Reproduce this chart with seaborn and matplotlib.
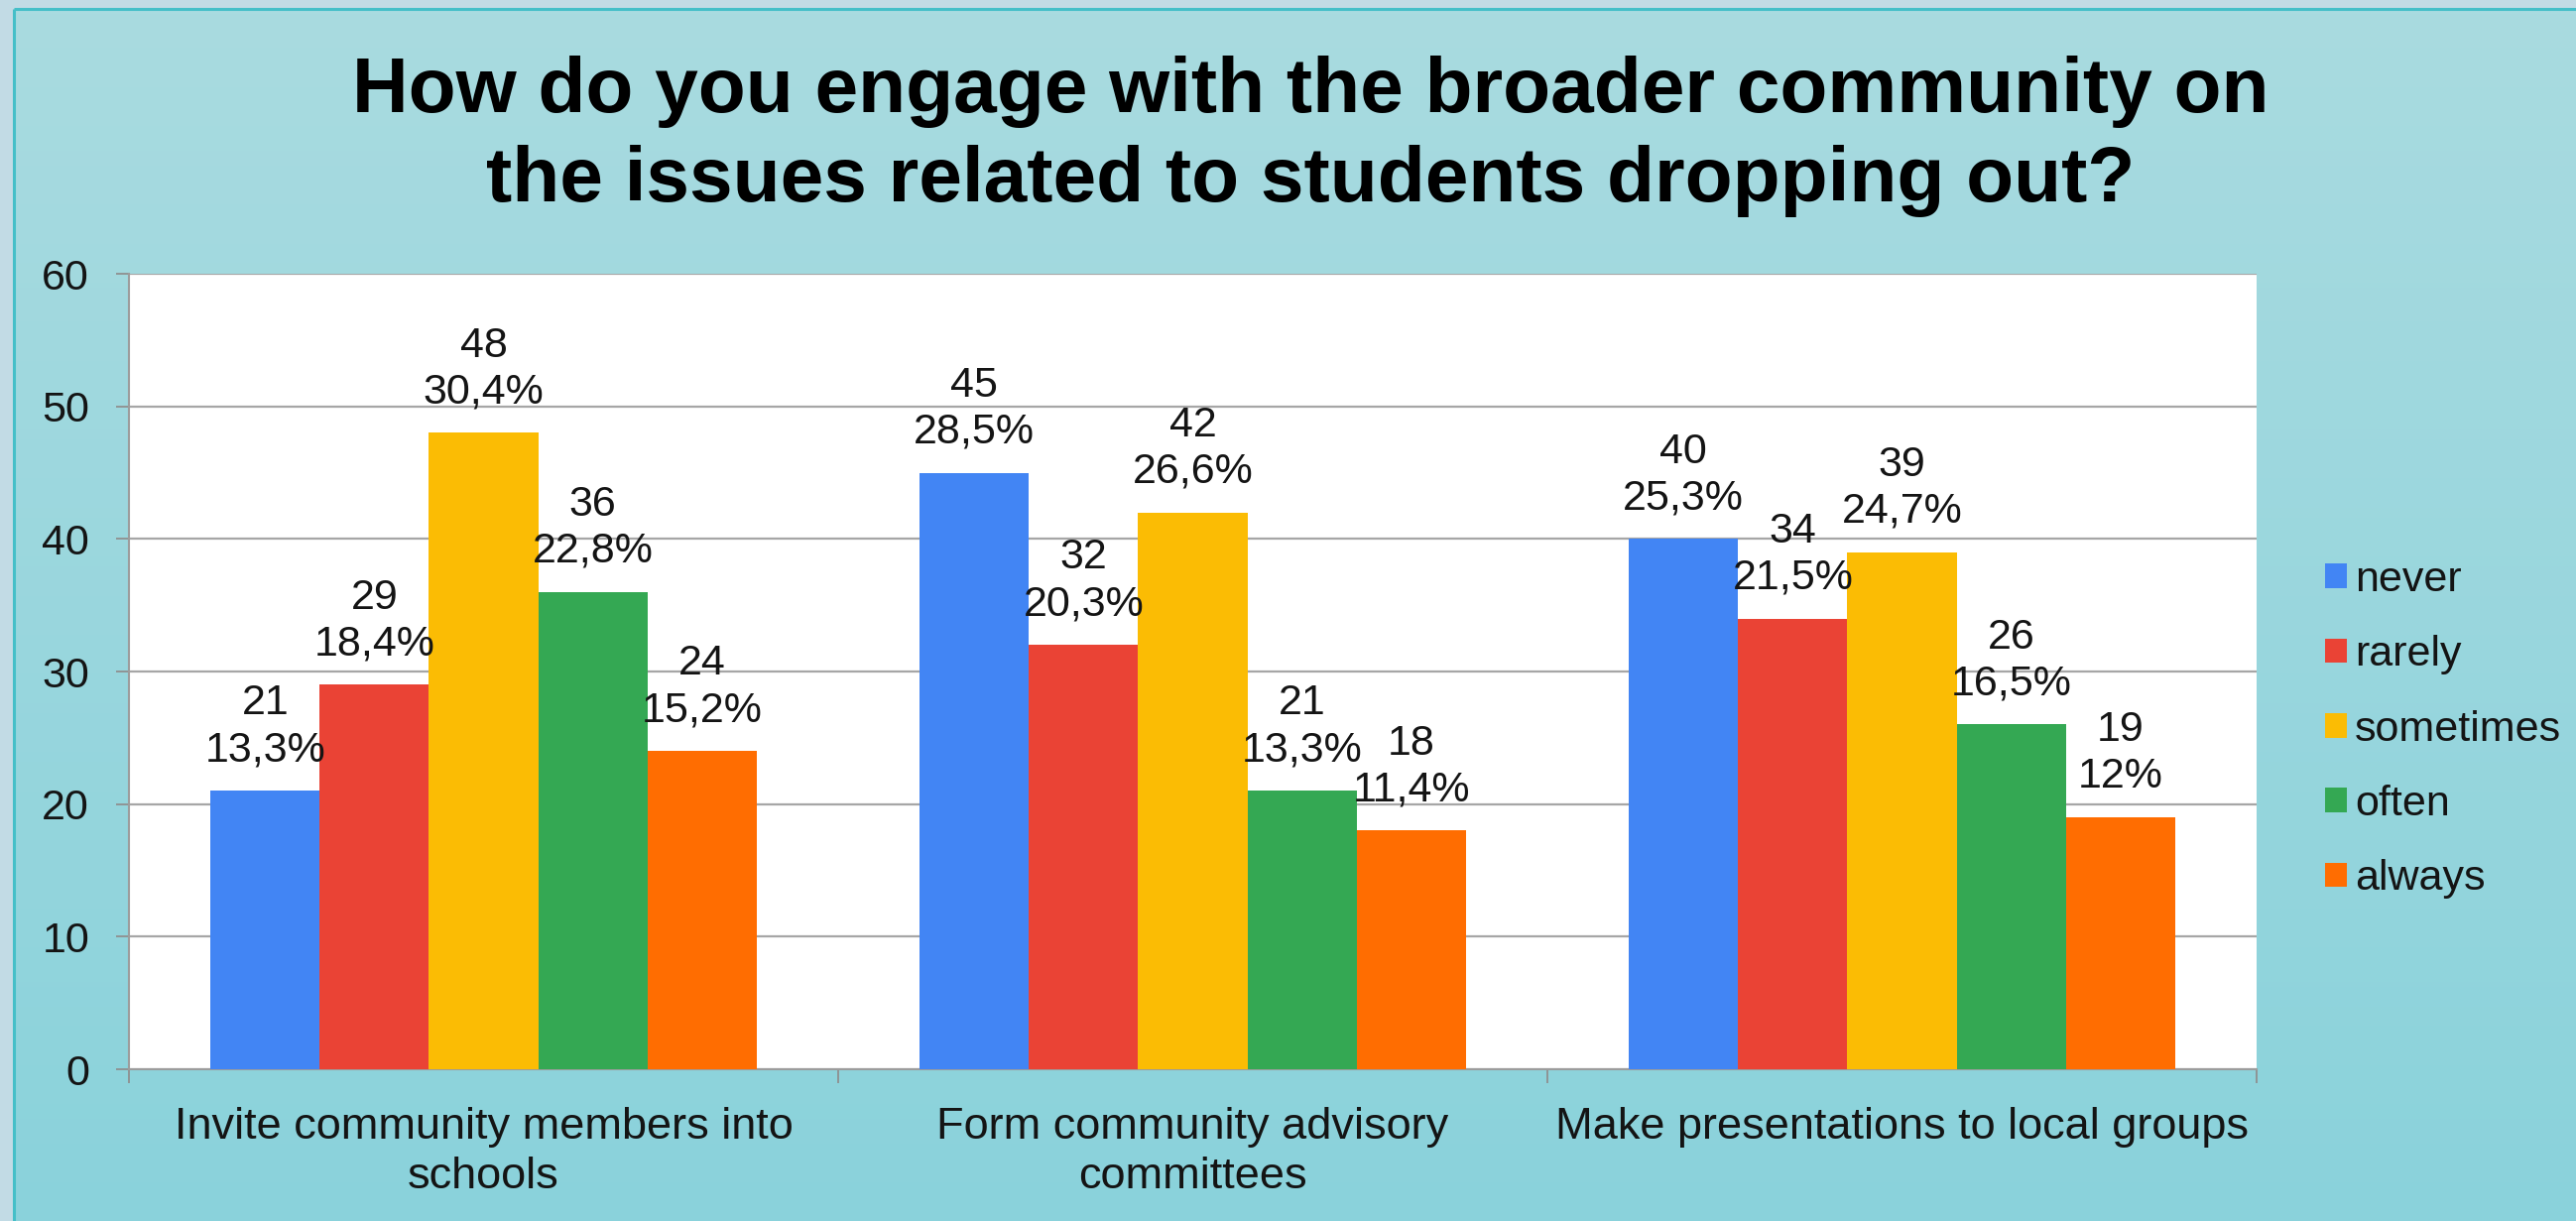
import numpy as np
import pandas as pd
import matplotlib
matplotlib.use("Agg")
import matplotlib.pyplot as plt
from matplotlib.patches import Patch
import seaborn as sns

# ---- data -------------------------------------------------------------
categories = [
    "Invite community members into\nschools",
    "Form community advisory\ncommittees",
    "Make presentations to local groups",
]
responses = ["never", "rarely", "sometimes", "often", "always"]
never = [21, 45, 40]
rarely = [29, 32, 34]
sometimes = [48, 42, 39]
often = [36, 21, 26]
always = [24, 18, 19]
colors = ["#4285F4", "#EA4335", "#FBBC04", "#34A853", "#FF6D01"]
y_ticks = [0, 10, 20, 30, 40, 50, 60]
title_lines = [
    "How do you engage with the broader community on",
    "the issues related to students dropping out?",
]

counts = [never, rarely, sometimes, often, always]
rows = [
    {"category": c, "response": r, "count": counts[i][j]}
    for i, r in enumerate(responses)
    for j, c in enumerate(categories)
]
df = pd.DataFrame(rows)
totals = df.groupby("category", sort=False)["count"].sum().reindex(categories).values


def pct_text(v, total):
    s = f"{v / total * 100:.1f}"
    if s.endswith(".0"):
        s = s[:-2]
    return s.replace(".", ",") + "%"


# ---- figure geometry (pixels) -----------------------------------------
W, H = 2597, 1231
DPI = 100
PT = 72 / DPI  # points per pixel

sns.set_style("white")
plt.rcParams["font.family"] = ["Liberation Sans", "DejaVu Sans"]

fig = plt.figure(figsize=(W / DPI, H / DPI), dpi=DPI)
fig.patch.set_facecolor("#c2dbe5")

# slide background: teal gradient panel with a thin cyan edge
bg = fig.add_axes([0, 0, 1, 1], zorder=-10)
bg.axis("off")
top_c = np.array([169, 219, 224]) / 255
bot_c = np.array([137, 210, 219]) / 255
t = np.linspace(0, 1, 256)[:, None, None]
grad = top_c * (1 - t) + bot_c * t
grad = np.repeat(grad, 2, axis=1)
bg.imshow(grad, extent=[14, W + 40, H + 40, 9], aspect="auto", zorder=0)
bg.plot([14, 14], [9, H + 40], color="#45bfc8", lw=2.2, zorder=1, solid_capstyle="butt")
bg.plot([14, W + 40], [9, 9], color="#45bfc8", lw=2.2, zorder=1, solid_capstyle="butt")
bg.set_xlim(0, W)
bg.set_ylim(H, 0)

# ---- plot area --------------------------------------------------------
x0, x1, y0, y1 = 130, 2275, 276, 1078
ax = fig.add_axes([x0 / W, 1 - y1 / H, (x1 - x0) / W, (y1 - y0) / H])
ax.set_facecolor("white")

sns.barplot(
    data=df, x="category", y="count", hue="response",
    order=categories, hue_order=responses, palette=colors,
    width=0.77, saturation=1, linewidth=0, legend=False, ax=ax, zorder=3,
)

ax.set_xlim(-0.5, 2.5)
ax.set_ylim(0, 60)
ax.set_yticks(y_ticks)
ax.set_xlabel("")
ax.set_ylabel("")

ax.yaxis.grid(True, color="#a6a6a6", lw=1.6, zorder=0)
ax.set_axisbelow(True)
for side in ["top", "right"]:
    ax.spines[side].set_visible(False)
for side in ["left", "bottom"]:
    ax.spines[side].set_color("#9c9c9c")
    ax.spines[side].set_linewidth(1.5)

text_c = "#141414"
ax.tick_params(axis="y", direction="out", length=13 * PT, width=1.3, color="#8f8f8f",
               pad=27 * PT, labelsize=31, labelcolor=text_c, left=True)
ax.set_xticks([0, 1, 2])
ax.set_xticklabels(categories, linespacing=1.28)
ax.set_xticks([-0.5, 0.5, 1.5, 2.5], minor=True)
ax.tick_params(axis="x", which="major", length=0, pad=38 * PT, labelsize=32.5,
               labelcolor=text_c)
ax.tick_params(axis="x", which="minor", direction="out", length=14 * PT, width=1.3,
               color="#8f8f8f", bottom=True)

# value labels: count and share on two lines above each bar
for i, cont in enumerate(ax.containers):
    labels = [f"{counts[i][j]}\n{pct_text(counts[i][j], totals[j])}"
              for j in range(len(categories))]
    ax.bar_label(cont, labels=labels, padding=21 * PT, fontsize=31,
                 color=text_c, linespacing=1.22)

# ---- title ------------------------------------------------------------
tx = 1321 / W
fig.text(tx, 1 - 113 / H, title_lines[0], ha="center", va="baseline",
         fontsize=56.5, fontweight="bold", color="black")
fig.text(tx, 1 - 203 / H, title_lines[1], ha="center", va="baseline",
         fontsize=56.5, fontweight="bold", color="black")

# ---- legend -----------------------------------------------------------
handles = [Patch(facecolor=c, edgecolor="none") for c in colors]
ax.legend(
    handles, responses, loc="upper left",
    bbox_to_anchor=(2344 / W, 1 - 565 / H), bbox_transform=fig.transFigure,
    frameon=False, fontsize=31, handlelength=0.5, handleheight=0.5,
    handletextpad=0.2, labelspacing=0.82, borderpad=0, borderaxespad=0,
    labelcolor=text_c,
)

fig.savefig("out.png", dpi=DPI, facecolor=fig.get_facecolor())
